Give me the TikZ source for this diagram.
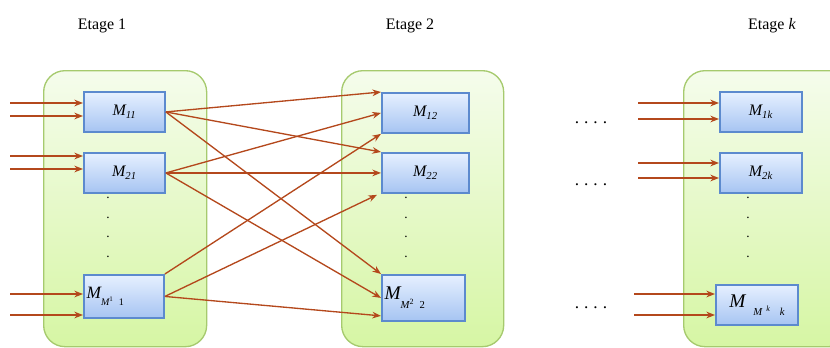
\documentclass[tikz,border=0pt]{standalone}
\usepackage{fontspec}
\setmainfont{Liberation Serif}
\usetikzlibrary{arrows.meta,calc}

\definecolor{flux}{RGB}{180,72,28}
\definecolor{boxtop}{RGB}{230,240,255}
\definecolor{boxbot}{RGB}{166,196,242}
\definecolor{boxline}{RGB}{92,138,206}
\definecolor{etagetop}{RGB}{245,252,236}
\definecolor{etagebot}{RGB}{214,246,164}
\definecolor{etageline}{RGB}{166,202,110}

\begin{document}
\begin{tikzpicture}[x=0.75pt,y=0.75pt,yscale=-1,xscale=1,
  etage/.style={draw=etageline, line width=1pt, rounded corners=16pt, top color=etagetop, bottom color=etagebot, anchor=north west, inner sep=0pt, minimum height=207pt},
  machine/.style={draw=boxline, line width=1.4pt, top color=boxtop, bottom color=boxbot, anchor=north west, inner sep=2pt, minimum height=30pt, font=\fontsize{12}{12}\selectfont\itshape},
  flow/.style={draw=flux, line width=1pt, -{Stealth[length=6.5pt,width=5pt]}},
  titre/.style={font=\fontsize{12}{12}\selectfont},
  suspension/.style={align=center, inner sep=0pt, font=\fontsize{10}{14.6}\selectfont},
  suite/.style={inner sep=0pt, font=\fontsize{13}{13}\selectfont},
  ]
\clip (0,0) rectangle (830,347);

% Etages
\node[etage, minimum width=122.25pt] (etage1) at (43,70) {};
\node[etage, minimum width=121.5pt] (etage2) at (341,70) {};
\node[etage, minimum width=125pt] (etagek) at (683,70) {};

% Titres
\node[titre] (titre1) at (102,26) {Etage 1};
\node[titre] (titre2) at (410,26) {Etage 2};
\node[titre] (titrek) at (772,26) {Etage \textit{k}};

% Etage 1
\node[machine, minimum width=60.75pt] (m11) at (83,91) {M\textsubscript{11}};
\node[machine, minimum width=60.75pt] (m21) at (83,152) {M\textsubscript{21}};
\node[machine, minimum height=32.25pt, text width=56pt, align=left] (mm1) at (83,274)
  {{\fontsize{13}{13}\selectfont M}\raisebox{-5.5pt}{\fontsize{7.5}{7.5}\selectfont M\textsuperscript{\upshape 1}\hspace{4pt}\upshape 1}};
\node[suspension] (pts1) at (108,227.5) {.\\.\\.\\.};

% Etage 2
\node[machine, minimum width=65.25pt] (m12) at (381,92) {M\textsubscript{12}};
\node[machine, minimum width=65.25pt] (m22) at (381,152) {M\textsubscript{22}};
\node[machine, minimum height=34.5pt, text width=58.25pt, align=left] (mm2) at (381,274)
  {{\fontsize{14.5}{14.5}\selectfont M}\raisebox{-6.5pt}{\fontsize{8}{8}\selectfont M\textsuperscript{\upshape 2}\hspace{4pt}\upshape 2}};
\node[suspension] (pts2) at (406,227.5) {.\\.\\.\\.};

% Etage k
\node[machine, minimum width=61.5pt] (m1k) at (719,91) {M\textsubscript{1\textit{k}}};
\node[machine, minimum width=61.5pt] (m2k) at (719,152) {M\textsubscript{2\textit{k}}};
\node[machine, minimum width=61.5pt] (mmk) at (715,284)
  {{\fontsize{14.5}{14.5}\selectfont M}\hspace{6pt}\raisebox{-6pt}{\fontsize{8}{8}\selectfont M\hspace{3pt}\textsuperscript{k}\hspace{7pt}k}};
\node[suspension] (ptsk) at (748,227.5) {.\\.\\.\\.};

% Suites horizontales
\node[suite] (suite1) at (591,123) {.\hspace{3.75pt}.\hspace{3.75pt}.\hspace{3.75pt}.};
\node[suite] (suite2) at (591,185) {.\hspace{3.75pt}.\hspace{3.75pt}.\hspace{3.75pt}.};
\node[suite] (suite3) at (591,308) {.\hspace{3.75pt}.\hspace{3.75pt}.\hspace{3.75pt}.};

% Entrees
\foreach \m/\ya/\yb/\x in {m11/103/116/10, m21/156/169/10, mm1/294/315/10, m1k/103/119/638, m2k/163/178/638, mmk/294/315/634} {
  \coordinate (in-\m-a) at (\x,\ya);
  \coordinate (in-\m-b) at (\x,\yb);
  \draw[flow] (in-\m-a) -- (\m.west |- in-\m-a);
  \draw[flow] (in-\m-b) -- (\m.west |- in-\m-b);
}

% Liaisons etage 1 -> etage 2
\draw[flow] (m11.east) -- (m12.north west);
\draw[flow] (m11.east) -- (m22.north west);
\draw[flow] (m11.east) -- (mm2.north west);
\draw[flow] (m21.east) -- (m12.west);
\draw[flow] (m21.east) -- (m22.west);
\draw[flow] (m21.east) -- (mm2.west);
\draw[flow] (mm1.north east) -- (m12.south west);
\draw[flow] (mm1.east) -- ($(m22.south west)+(-4,1)$);
\draw[flow] (mm1.east) -- ($(mm2.south west)+(0,-6)$);

\end{tikzpicture}
\end{document}
